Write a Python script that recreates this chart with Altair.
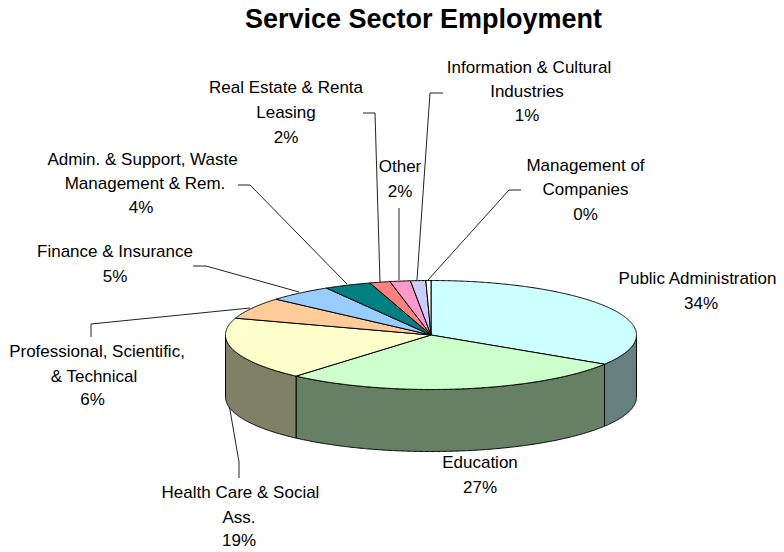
import numpy as np
import pandas as pd
import altair as alt

TITLE = "Service Sector Employment"
FONT = "Liberation Sans"

# Slices clockwise from twelve o'clock
names = ["Public Administration", "Education", "Health Care & Social Ass.",
         "Professional, Scientific, & Technical", "Finance & Insurance",
         "Admin. & Support, Waste Management & Rem.", "Real Estate & Rental Leasing",
         "Other", "Information & Cultural Industries", "Management of Companies"]
values = [34.0, 27.4, 18.6, 6.4, 5.1, 3.7, 1.6, 1.6, 1.2, 0.4]
top_colors = ["#CCFFFF", "#CCFFCC", "#FFFFCC", "#FFCC99", "#99CCFF",
              "#008080", "#FF8080", "#FF99CC", "#CCCCFF", "#FFFFFF"]
side_colors = ["#668080", "#668066", "#808066", "#806640", "#4D6680",
               "#004040", "#804040", "#804D66", "#666680", "#808080"]

# Label text lines (without the percentage), as drawn, with centres and baselines per line
label_lines = [["Public Administration"], ["Education"], ["Health Care & Social", "Ass."],
               ["Professional, Scientific,", "& Technical"], ["Finance & Insurance"],
               ["Admin. & Support, Waste", "Management & Rem."], ["Real Estate & Renta", "Leasing"],
               ["Other"], ["Information & Cultural", "Industries"], ["Management of", "Companies"]]
label_cx = [[697.5, 701], [480, 480], [240.5, 239, 239], [97, 94, 92.5], [115, 115],
            [142.5, 145, 141], [286, 286, 286], [400, 400], [529, 527, 527], [585.5, 585.5, 585.5]]
label_base = [[284, 309], [468, 493], [498, 523, 546], [357, 382, 405], [257, 282],
              [165, 189, 213], [93, 118, 143], [172, 197], [73, 97, 121], [171, 195, 220]]

# Leader lines (page pixels): label end, elbow, slice edge
leaders = [
    [(229, 407), (230, 410), (239, 462), (239, 478)],
    [(91, 337), (91, 324), (250, 308)],
    [(193, 266), (206, 266), (299, 292)],
    [(238, 185), (250, 185), (347, 284)],
    [(363, 113), (375, 113), (380, 282)],
    [(399, 208), (399, 280)],
    [(443, 93), (430, 93), (417, 280)],
    [(521, 190), (509, 190), (428, 280)],
]

CX, CY, RX, RY, DEPTH = 431.0, 335.0, 205.5, 54.5, 62.0
PLOT_X = [8, 776]
PLOT_Y = [40, 550]


def ell(t, dy=0.0):
    r = np.radians(t)
    return CX + RX * np.sin(r), CY - RY * np.cos(r) + dy


edges = np.concatenate([[0.0], np.cumsum(values)]) / sum(values) * 360.0
tops, sides = [], []
for i, (a, b) in enumerate(zip(edges[:-1], edges[1:])):
    t = np.linspace(a, b, max(3, int((b - a) * 3)))
    x, y = ell(t)
    xs = np.concatenate([[CX], x, [CX]])
    ys = np.concatenate([[CY], y, [CY]])
    for k, (px, py) in enumerate(zip(xs, ys)):
        tops.append(dict(id=i, k=k, x=px, y=py, fill=top_colors[i]))
    lo, hi = max(a, 90.0), min(b, 270.0)
    if hi > lo:
        t = np.linspace(lo, hi, max(3, int((hi - lo) * 3)))
        x1, y1 = ell(t)
        x2, y2 = ell(t[::-1], DEPTH)
        xs = np.concatenate([x1, x2, x1[:1]])
        ys = np.concatenate([y1, y2, y1[:1]])
        for k, (px, py) in enumerate(zip(xs, ys)):
            sides.append(dict(id=i, k=k, x=px, y=py, fill=side_colors[i]))

text_rows = []
for i, lines in enumerate(label_lines):
    full = lines + [f"{round(values[i])}%"]
    for line, cx, base in zip(full, label_cx[i], label_base[i]):
        text_rows.append(dict(x=cx, y=base, t=line))

leader_rows = [dict(id=i, k=k, x=p[0], y=p[1]) for i, path in enumerate(leaders) for k, p in enumerate(path)]

X = alt.X("x:Q", scale=alt.Scale(domain=PLOT_X, nice=False, zero=False), axis=None)
Y = alt.Y("y:Q", scale=alt.Scale(domain=PLOT_Y, range=[0, PLOT_Y[1] - PLOT_Y[0]], nice=False, zero=False), axis=None)


def faces(rows):
    return alt.Chart(pd.DataFrame(rows)).mark_line(strokeWidth=1, stroke="black", strokeJoin="miter").encode(
        x=X, y=Y, detail="id:N", order="k:Q", fill=alt.Fill("fill:N", scale=None))


lead = alt.Chart(pd.DataFrame(leader_rows)).mark_line(strokeWidth=1, color="#222222").encode(
    x=X, y=Y, detail="id:N", order="k:Q")
labels = alt.Chart(pd.DataFrame(text_rows)).mark_text(
    font=FONT, fontSize=17, align="center", baseline="alphabetic", color="black").encode(x=X, y=Y, text="t:N")

chart = alt.layer(faces(sides), faces(tops), lead, labels).properties(
    width=PLOT_X[1] - PLOT_X[0],
    height=PLOT_Y[1] - PLOT_Y[0],
    padding={"left": 0, "right": 0, "top": 32, "bottom": 0},
    autosize=alt.AutoSizeParams(type="none"),
    title=alt.TitleParams(TITLE, font=FONT, fontSize=27, fontWeight="bold", color="black",
                          anchor="middle", dx=31.5, offset=6),
    background="white",
).configure_view(stroke=None)

chart.save("out.html", embed_options={"renderer": "svg", "actions": False})
